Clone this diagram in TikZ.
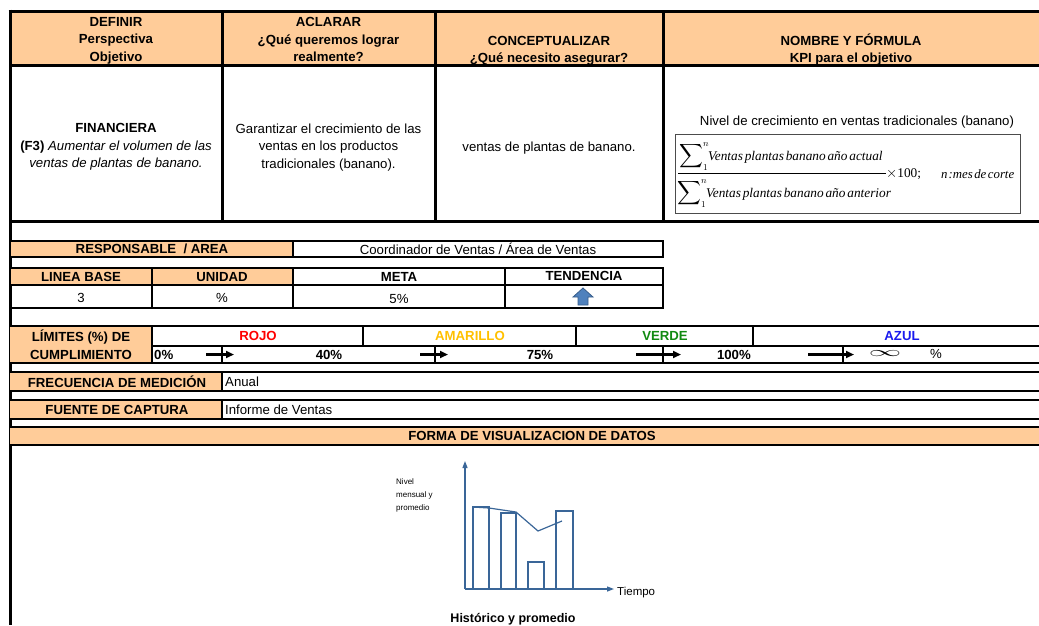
\documentclass[tikz,border=0pt]{standalone}
\usepackage{fontspec}
\usepackage{amsmath}
\usepackage{graphicx}
\setmainfont{Liberation Sans}
\newfontfamily\tms{Liberation Serif}
\usetikzlibrary{arrows.meta}
\definecolor{hdr}{HTML}{FFCC99}
\definecolor{chartblue}{HTML}{3A6698}
\definecolor{amar}{HTML}{FFC000}
\definecolor{verdec}{HTML}{118A11}
\definecolor{azulc}{HTML}{1A1AEE}
\definecolor{arrowfill}{HTML}{4F81BD}
\definecolor{arrowedge}{HTML}{385D8A}
\newcommand{\kpiterm}[1]{{\tms\itshape\spaceskip=0.14em plus 0.05em\relax #1}}
\newcommand{\kpisum}{$\mathop{\vcenter{\hbox{\scalebox{1.15}{$\displaystyle\sum$}}}}\nolimits_{1}^{n}$}
\begin{document}
\begin{tikzpicture}[x=1pt,y=-1pt,
  grid/.style={line width=3pt},
  thin grid/.style={line width=2.7pt},
  txt/.style={inner sep=0pt, font=\fontsize{13.2}{17.5}\selectfont, align=center},
  btxt/.style={txt, font=\fontsize{13.2}{17.5}\selectfont\bfseries},
  ftxt/.style={inner sep=0pt, font=\fontsize{13.3}{16}\selectfont},
  limarrow/.style={line width=2.4pt, -{Triangle[length=8pt,width=7pt]}},
  chartline/.style={chartblue, line width=1.2pt},
  axisarrow/.style={chartline, -{Triangle[length=7pt,width=5pt]}}]
\useasboundingbox (0,0) rectangle (1039,625);

% ---------- header and definition block ----------
\fill[hdr] (10,11) rectangle (1039,65);
\draw[grid] (8.5,11) -- (1039,11);
\draw[grid] (10,65) -- (1039,65);
\draw[grid] (10,221) -- (1039,221);
\draw[grid] (10,9.5) -- (10,625);
\foreach \xx in {222,435,663} \draw[grid] (\xx,11) -- (\xx,221);

\node[btxt] (hdefinir) at (116,40.5) {DEFINIR\\Perspectiva\\Objetivo};
\node[btxt] (haclarar) at (328.5,39.5) {ACLARAR\\¿Qué queremos lograr\\realmente?};
\node[btxt] (hconcept) at (549,51) {CONCEPTUALIZAR\\¿Qué necesito asegurar?};
\node[btxt] (hnombre) at (851,49.5) {NOMBRE Y FÓRMULA\\KPI para el objetivo};

\node[txt] (financiera) at (116,147)
  {\textbf{FINANCIERA}\\\textbf{(F3)} \textit{Aumentar el volumen de las}\\\textit{ventas de plantas de banano.}};
\node[txt] (garantizar) at (328.5,147.5)
  {Garantizar el crecimiento de las\\ventas en los productos\\tradicionales (banano).};
\node[txt] (asegurar) at (549,148) {ventas de plantas de banano.};
\node[txt] (kpiname) at (857,122) {Nivel de crecimiento en ventas tradicionales (banano)};

% KPI formula, set piece by piece inside its frame
\node[draw=black!70, line width=0.8pt, minimum width=345pt, minimum height=79pt, inner sep=0pt]
  (fbox) at (847.5,173.5) {};
\node[ftxt, anchor=base west] (fnum) at (679,160)
  {\kpisum\kern-1pt\kpiterm{Ventas plantas banano año actual}};
\node[ftxt, anchor=base west] (fden) at (677,197)
  {\kpisum\kern-1pt\kpiterm{Ventas plantas banano año anterior}};
\coordinate (barL) at (678,173);
\coordinate (barR) at (886,173);
\draw[line width=0.7pt] (barL) -- (barR);
\node[ftxt, anchor=west] (ftimes) at (886,174) {\tms$\times$100;};
\node[inner sep=0pt, anchor=west, font=\fontsize{12.8}{15}\selectfont] (fmes) at (941,174)
  {{\tms\itshape\spaceskip=0.12em\relax n\kern1pt:mes de corte}};

% ---------- responsible / baseline / target ----------
\fill[hdr] (10,241) rectangle (293,257);
\draw[thin grid] (10,241) rectangle (663,257);
\draw[thin grid] (293,241) -- (293,257);
\node[btxt] (resp) at (152,249) {RESPONSABLE \ / AREA};
\node[txt] (respval) at (478,249) {Coordinador de Ventas / Área de Ventas};

\fill[hdr] (10,268) rectangle (293,285);
\draw[thin grid] (10,268) rectangle (663,308);
\draw[thin grid] (10,285) -- (663,285);
\foreach \xx in {152,293,505} \draw[thin grid] (\xx,268) -- (\xx,308);
\node[btxt] (lbase) at (81,277) {LINEA BASE};
\node[btxt] (unidad) at (222,277) {UNIDAD};
\node[btxt] (meta) at (399,277) {META};
\node[btxt] (tend) at (584,276) {TENDENCIA};
\node[txt] (lbaseval) at (81,298) {3};
\node[txt] (unidadval) at (222,298) {\%};
\node[txt] (metaval) at (399,299) {5\%};
\filldraw[fill=arrowfill, draw=arrowedge, line width=0.8pt]
  (583,288) -- (593,297) -- (588,297) -- (588,305) -- (578,305) -- (578,297) -- (573,297) -- cycle;

% ---------- compliance limits ----------
\fill[hdr] (10,326) rectangle (152,363);
\draw[thin grid] (10,326) -- (1039,326);
\draw[thin grid] (152,346) -- (1039,346);
\draw[thin grid] (10,363) -- (1039,363);
\draw[thin grid] (152,326) -- (152,363);
\foreach \xx in {363,576,753} \draw[thin grid] (\xx,326) -- (\xx,346);
\foreach \xx in {222,435,663,843} \draw[thin grid] (\xx,346) -- (\xx,363);
\node[btxt] (limites) at (81,344.5) {LÍMITES (\%) DE\\CUMPLIMIENTO};
\node[btxt, text=red] (rojo) at (258,336) {ROJO};
\node[btxt, text=amar] (amarillo) at (470,336) {AMARILLO};
\node[btxt, text=verdec] (verde) at (665,336) {VERDE};
\node[btxt, text=azulc] (azul) at (902,336) {AZUL};
\node[btxt, anchor=west] (p0) at (154,354.5) {0\%};
\node[btxt] (p40) at (329,354.5) {40\%};
\node[btxt] (p75) at (540,354.5) {75\%};
\node[btxt, anchor=east] (p100) at (751,354.5) {100\%};
\node[txt] (pinf) at (885,354) {\scalebox{2.7}[1.15]{$\infty$}};
\node[txt] (ppct) at (936,354) {\%};
\coordinate (a1s) at (206,354.5); \coordinate (a1e) at (234,354.5);
\coordinate (a2s) at (420,354.5); \coordinate (a2e) at (448,354.5);
\coordinate (a3s) at (636,354.5); \coordinate (a3e) at (681,354.5);
\coordinate (a4s) at (808,354.5); \coordinate (a4e) at (854,354.5);
\draw[limarrow] (a1s) -- (a1e);
\draw[limarrow] (a2s) -- (a2e);
\draw[limarrow] (a3s) -- (a3e);
\draw[limarrow] (a4s) -- (a4e);

% ---------- frequency, source, display ----------
\fill[hdr] (10,372) rectangle (222,391);
\draw[thin grid] (10,372) -- (1039,372);
\draw[thin grid] (10,391) -- (1039,391);
\draw[thin grid] (222,372) -- (222,391);
\node[btxt] (frec) at (117,382) {FRECUENCIA DE MEDICIÓN};
\node[txt, anchor=west] (frecval) at (225,382) {Anual};

\fill[hdr] (10,400) rectangle (222,419);
\draw[thin grid] (10,400) -- (1039,400);
\draw[thin grid] (10,419) -- (1039,419);
\draw[thin grid] (222,400) -- (222,419);
\node[btxt] (fuente) at (117,410) {FUENTE DE CAPTURA};
\node[txt, anchor=west] (fuenteval) at (225,410) {Informe de Ventas};

\fill[hdr] (10,427) rectangle (1039,445);
\draw[thin grid] (10,427) -- (1039,427);
\draw[thin grid] (10,445) -- (1039,445);
\node[btxt] (forma) at (532,436) {FORMA DE VISUALIZACION DE DATOS};

% ---------- sample chart ----------
\coordinate (origin) at (465,589);
\coordinate (ytip) at (465,461);
\coordinate (xtip) at (614,589);
\draw[axisarrow] (origin) -- (ytip);
\draw[axisarrow] (origin) -- (xtip);
\draw[chartline] (473,589) rectangle (489,507);
\draw[chartline] (501,589) rectangle (516,513);
\draw[chartline] (528,589) rectangle (544,562);
\draw[chartline] (556,589) rectangle (573,511);
\draw[chartline] (473,507) -- (489,508) -- (516,512) -- (538,531) -- (562,521);
\node[inner sep=0pt, anchor=north west, align=left, font=\fontsize{8}{13}\selectfont] (ylab) at (396,478)
  {Nivel\\mensual y\\promedio};
\node[inner sep=0pt, anchor=west, font=\fontsize{11.5}{14}\selectfont] (xlab) at (617,593) {Tiempo};
\node[inner sep=0pt, font=\fontsize{12.5}{15}\selectfont\bfseries] (ctitle) at (513,619) {Histórico y promedio};
\end{tikzpicture}
\end{document}
